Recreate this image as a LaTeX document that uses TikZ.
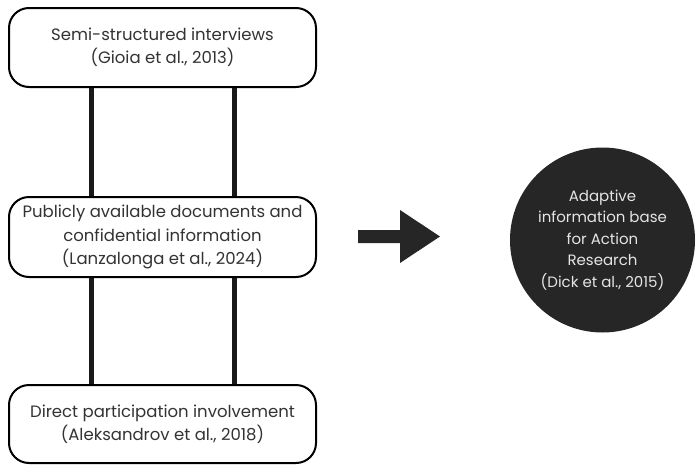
\documentclass[tikz,border=0pt]{standalone}
\usepackage{fontspec}
\setmainfont{Poppins}
\begin{document}
\begin{tikzpicture}[x=1pt,y=-1pt,
  srcbox/.style={draw=black, line width=2pt, rounded corners=20pt, minimum width=307pt, fill=white,
    align=center, text=black!80, font=\fontsize{16.5}{23.5}\selectfont, inner sep=0pt},
  bar/.style={line width=5pt, draw=black!90},
  goal/.style={circle, fill=black!85, minimum size=185pt, inner sep=0pt, align=center,
    text=white!90!black, font=\fontsize{15}{21.5}\selectfont}]
\useasboundingbox (0,0) rectangle (696,466);
\node[srcbox, minimum height=79pt] (b1) at (162.5,47.5) {Semi-structured interviews\\(Gioia et al., 2013)};
\node[srcbox, minimum height=80pt] (b2) at (162.5,237) {Publicly available documents and\\confidential information\\(Lanzalonga et al., 2024)};
\node[srcbox, minimum height=78pt] (b3) at (162.5,424) {Direct participation involvement\\(Aleksandrov et al., 2018)};
\foreach \s in {-71.5,71.5}{
  \draw[bar] ([xshift=\s pt]b1.south) -- ([xshift=\s pt]b2.north);
  \draw[bar] ([xshift=\s pt]b2.south) -- ([xshift=\s pt]b3.north);
}
\node[goal] (c) at (602.5,240) {Adaptive\\information base\\for Action\\Research\\(Dick et al., 2015)};
\fill[black!85] (358,230) -- (400,230) -- (400,210) -- (440,236.5) -- (400,263) -- (400,243) -- (358,243) -- cycle;
\end{tikzpicture}
\end{document}
